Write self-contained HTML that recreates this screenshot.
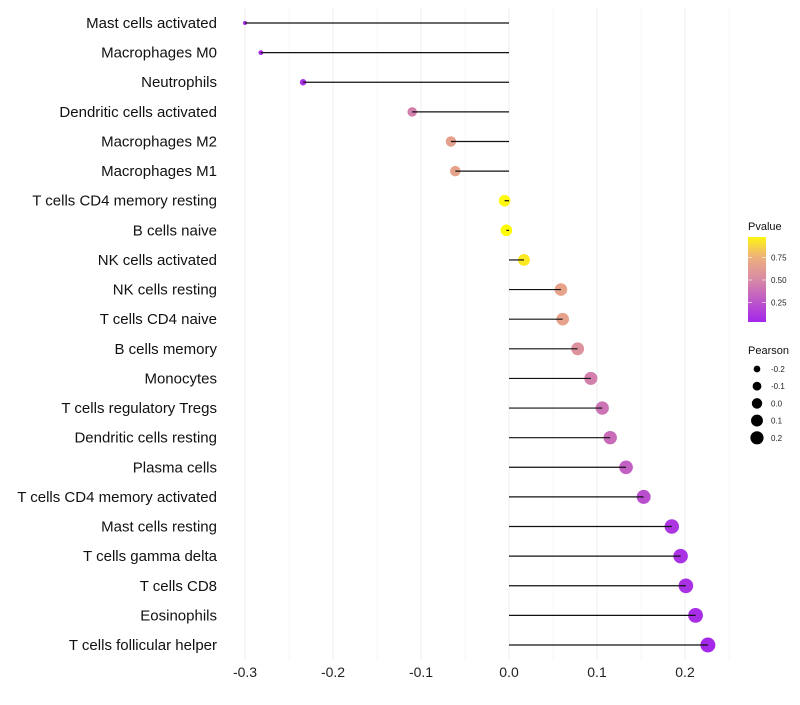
<!DOCTYPE html>
<html><head><meta charset="utf-8"><style>
body{margin:0;background:#fff;font-family:"Liberation Sans",sans-serif}
</style></head><body>
<svg id="c" width="800" height="700" xmlns="http://www.w3.org/2000/svg"></svg>
<script>
const categories=["Mast cells activated","Macrophages M0","Neutrophils","Dendritic cells activated","Macrophages M2","Macrophages M1","T cells CD4 memory resting","B cells naive","NK cells activated","NK cells resting","T cells CD4 naive","B cells memory","Monocytes","T cells regulatory  Tregs ","Dendritic cells resting","Plasma cells","T cells CD4 memory activated","Mast cells resting","T cells gamma delta","T cells CD8","Eosinophils","T cells follicular helper"];
const pearson=[-0.300,-0.282,-0.234,-0.110,-0.066,-0.061,-0.005,-0.003,0.017,0.059,0.061,0.078,0.093,0.106,0.115,0.133,0.153,0.185,0.195,0.201,0.212,0.226];
const pvalue=[0.04,0.05,0.08,0.45,0.65,0.66,0.98,0.99,0.93,0.67,0.66,0.55,0.45,0.40,0.36,0.30,0.22,0.11,0.09,0.08,0.06,0.04];
const xTicks=[-0.3,-0.2,-0.1,0.0,0.1,0.2];
const xTickLabels=["-0.3","-0.2","-0.1","0.0","0.1","0.2"];
const pTicks=[0.25,0.5,0.75];
const sizeTicks=[-0.2,-0.1,0.0,0.1,0.2];
const NS="http://www.w3.org/2000/svg";
const svg=document.getElementById('c');
function el(t,a,p){const e=document.createElementNS(NS,t);for(const k in a)e.setAttribute(k,a[k]);(p||svg).appendChild(e);return e;}
const x=v=>509+(v)*880;
const y=i=>23+i*(622/21);
const r=v=>Math.sqrt(4+99*(v+0.3));
function lerp(a,b,t){return a.map((c,i)=>Math.round(c+(b[i]-c)*t));}
const stops=[[0,[160,32,240]],[0.5,[216,138,165]],[0.75,[238,175,125]],[1,[255,255,0]]];
function col(p){for(let i=1;i<stops.length;i++){if(p<=stops[i][0]){const t=(p-stops[i-1][0])/(stops[i][0]-stops[i-1][0]);const c=lerp(stops[i-1][1],stops[i][1],t);return `rgb(${c})`;}}return 'rgb(255,255,0)';}
for(let v=-0.3;v<=0.251;v+=0.05){const major=Math.abs(Math.round(v*100)%10)<1;
const g=el('line',{x1:x(v),x2:x(v),y1:8,y2:660,stroke:major?'#ededed':'#f7f7f7','stroke-width':1});
}
xTicks.forEach((v,i)=>{const t=el('text',{x:x(v),y:677,'text-anchor':'middle','font-size':14,fill:'#222'});t.textContent=xTickLabels[i];
});
categories.forEach((c,i)=>{
const t=el('text',{x:217,y:y(i)+5,'text-anchor':'end','font-size':15,fill:'#111'});t.textContent=c;

const ci=el('circle',{cx:x(pearson[i]),cy:y(i),r:r(pearson[i]),fill:col(pvalue[i])});

const l=el('line',{x1:x(0),x2:x(pearson[i]),y1:y(i),y2:y(i),stroke:'#111','stroke-width':1.2});

});
const lg=el('g',{});
let t=el('text',{x:748,y:230,'font-size':11,fill:'#111'},lg);t.textContent='Pvalue';
const defs=el('defs',{});const gr=el('linearGradient',{id:'pg',x1:0,y1:1,x2:0,y2:0},defs);
for(let k=0;k<=10;k++){const p=0.03+k*0.094;el('stop',{offset:k/10,'stop-color':col(p)},gr);}
el('rect',{x:748,y:237,width:18,height:85,fill:'url(#pg)'},lg);
const py=p=>280-(p-0.5)*90;
pTicks.forEach(p=>{el('line',{x1:748,x2:752,y1:py(p),y2:py(p),stroke:'#fff','stroke-opacity':0.6},lg);el('line',{x1:762,x2:766,y1:py(p),y2:py(p),stroke:'#fff','stroke-opacity':0.6},lg);
const tt=el('text',{x:771,y:py(p)+3,'font-size':8,fill:'#222'},lg);tt.textContent=p.toFixed(2);});
const sg=el('g',{});
t=el('text',{x:748,y:354,'font-size':11,fill:'#111'},sg);t.textContent='Pearson';
sizeTicks.forEach((v,i)=>{const cy=369+i*17.2;el('circle',{cx:757,cy:cy,r:r(v)*0.9,fill:'#000'},sg);
const tt=el('text',{x:771,y:cy+3,'font-size':8,fill:'#222'},sg);tt.textContent=v.toFixed(1);});
</script>
</body></html>
